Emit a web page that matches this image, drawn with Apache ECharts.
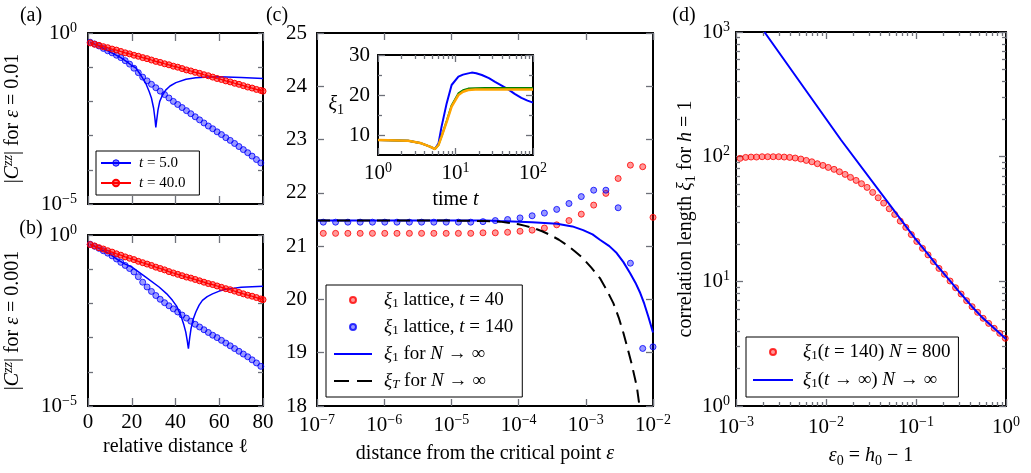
<!DOCTYPE html>
<html><head><meta charset="utf-8">
<script src="https://cdn.jsdelivr.net/npm/echarts@6/dist/echarts.min.js"></script>
<style>html,body{margin:0;padding:0;background:#fff}#c{width:1031px;height:473px}</style>
</head><body><div id="c"></div>
<script>
// ---------------- DATA ----------------
// panels (a),(b): relative distance l
const aLOdd = [1,3,5,7,9,11,13,15,17,19,21,23,25,27,29,31,33,35,37,39,41,43,45,47,49,51,53,55,57,59,61,63,65,67,69,71,73,75,77,79];
const aLRed = [1,3,5,7,9,11,13,15,17,19,21,23,25,27,29,31,33,35,37,39,41,43,45,47,49,51,53,55,57,59,61,63,65,67,69,71,73,75,77,79,80];
// values read as powers of ten (log10 |C^zz|)
const aBlueDotsExp = [-0.27,-0.32,-0.38,-0.45,-0.52,-0.58,-0.65,-0.72,-0.81,-0.91,-1.03,-1.16,-1.29,-1.40,-1.50,-1.60,-1.70,-1.80,-1.90,-2.00,-2.09,-2.18,-2.27,-2.36,-2.45,-2.54,-2.63,-2.72,-2.80,-2.89,-2.97,-3.06,-3.14,-3.23,-3.32,-3.41,-3.50,-3.60,-3.70,-3.80];
const aBlueLineL = [1,5,10,15,18,20,22,24,26.4,28,29,30,30.6,31,31.5,32,32.8,34,35.5,37.5,40.2,44.8,49.3,55,60,70,80];
const aBlueLineExp = [-0.27,-0.38,-0.55,-0.72,-0.85,-0.95,-1.03,-1.22,-1.47,-1.72,-1.90,-2.20,-2.50,-2.76,-2.50,-2.25,-2.00,-1.82,-1.67,-1.55,-1.45,-1.35,-1.31,-1.29,-1.28,-1.30,-1.33];
const aRedExp = [-0.29,-0.33,-0.36,-0.40,-0.43,-0.47,-0.50,-0.54,-0.58,-0.61,-0.65,-0.68,-0.72,-0.75,-0.79,-0.83,-0.86,-0.90,-0.93,-0.97,-1.00,-1.04,-1.08,-1.11,-1.15,-1.18,-1.22,-1.25,-1.29,-1.33,-1.36,-1.40,-1.43,-1.47,-1.50,-1.54,-1.58,-1.61,-1.65,-1.68,-1.70];

const bBlueDotsExp = [-0.27,-0.33,-0.39,-0.46,-0.53,-0.61,-0.70,-0.80,-0.89,-0.98,-1.08,-1.22,-1.38,-1.52,-1.65,-1.77,-1.88,-1.98,-2.07,-2.16,-2.25,-2.34,-2.43,-2.52,-2.61,-2.69,-2.77,-2.85,-2.93,-3.00,-3.08,-3.16,-3.24,-3.32,-3.40,-3.48,-3.56,-3.65,-3.74,-3.84];
const bBlueLineL = [1,5,10,14,17,19.6,22,26.4,32.5,36,38.6,40.5,42.4,43.7,44.7,45.4,45.9,46.5,47.1,48,49.3,50.8,52.3,54.5,56.9,60,63,70,80];
const bBlueLineExp = [-0.27,-0.39,-0.56,-0.74,-0.85,-0.92,-1.03,-1.23,-1.52,-1.72,-1.91,-2.08,-2.35,-2.60,-2.84,-3.10,-3.32,-3.00,-2.74,-2.48,-2.25,-2.05,-1.91,-1.80,-1.72,-1.64,-1.59,-1.53,-1.50];
const bRedExp = [-0.28,-0.32,-0.37,-0.41,-0.46,-0.50,-0.55,-0.59,-0.64,-0.68,-0.72,-0.77,-0.81,-0.85,-0.89,-0.94,-0.98,-1.02,-1.07,-1.11,-1.15,-1.19,-1.23,-1.26,-1.30,-1.34,-1.38,-1.42,-1.45,-1.49,-1.53,-1.57,-1.60,-1.64,-1.68,-1.72,-1.76,-1.79,-1.83,-1.87,-1.89];

// panel (c): distance from critical point
const cEps = [1.24e-7,1.89e-7,2.88e-7,4.39e-7,6.68e-7,1.02e-6,1.55e-6,2.37e-6,3.60e-6,5.48e-6,8.36e-6,1.27e-5,1.94e-5,2.95e-5,4.50e-5,6.86e-5,1.05e-4,1.59e-4,2.42e-4,3.69e-4,5.62e-4,8.57e-4,1.31e-3,1.99e-3,3.03e-3,4.61e-3,7.03e-3,1.0e-2];
const cXiT40 = [21.24,21.24,21.24,21.24,21.24,21.24,21.24,21.24,21.24,21.24,21.24,21.24,21.24,21.25,21.25,21.26,21.28,21.30,21.34,21.40,21.48,21.60,21.77,21.99,22.27,22.52,22.49,21.54];
const cXiT140 = [21.45,21.45,21.45,21.45,21.45,21.45,21.45,21.45,21.45,21.45,21.45,21.45,21.45,21.46,21.48,21.50,21.53,21.57,21.62,21.69,21.80,21.93,22.05,22.05,21.72,20.68,19.08,19.11];
const cLineEps = [1e-7,1e-5,3.16e-5,5.25e-5,1.58e-4,3.72e-4,6.31e-4,9.12e-4,1.26e-3,1.62e-3,2.24e-3,2.88e-3,3.63e-3,4.57e-3,5.50e-3,6.46e-3,7.41e-3,8.51e-3,1e-2];
const cLineXi = [21.48,21.48,21.48,21.47,21.45,21.42,21.37,21.30,21.22,21.12,21.00,20.87,20.70,20.49,20.31,20.12,19.92,19.68,19.38];
const cDashEps = [1e-7,1e-5,3.16e-5,5.25e-5,1e-4,1.26e-4,1.66e-4,2.24e-4,2.95e-4,3.98e-4,5.25e-4,6.92e-4,9.12e-4,1.20e-3,1.62e-3,2.04e-3,2.57e-3,3.09e-3,3.63e-3,4.17e-3,4.79e-3,5.75e-3,6.31e-3,6.61e-3];
const cDashXi = [21.48,21.48,21.47,21.46,21.41,21.38,21.34,21.28,21.21,21.12,21.02,20.90,20.77,20.60,20.40,20.18,19.93,19.66,19.37,19.09,18.80,18.36,17.99,17.70];

// inset: time t
const inT = [1,2.45,3.63,4.68,5.43,6.03,6.61,7.69,8.91,10.9,12.5,14.6,18,24,100];
const inOrange = [8.75,8.58,7.92,7.08,6.5,7.5,9.6,13.3,17.1,20.0,20.8,21.25,21.35,21.4,21.4];
const inGreen = [8.75,8.58,7.92,7.08,6.5,7.5,9.7,13.5,17.4,20.4,21.2,21.6,21.7,21.75,21.75];
const inBlueT = [1,2.45,3.63,4.68,5.43,6.03,6.61,7.69,8.91,10.9,12.5,14.6,16.2,18.5,21.9,27,32.4,40,47.9,58,70.8,85,100];
const inBlue = [8.75,8.58,7.92,7.08,6.5,7.9,12.1,17.9,22.5,24.6,25.1,25.4,25.6,25.45,25.0,24.2,23.3,22.3,21.4,20.3,19.3,18.6,18.1];

// panel (d): eps0 = h0 - 1
const dEps0 = [1.11e-3,1.28e-3,1.47e-3,1.69e-3,1.95e-3,2.25e-3,2.59e-3,2.98e-3,3.43e-3,3.95e-3,4.55e-3,5.25e-3,6.04e-3,6.96e-3,8.02e-3,9.24e-3,1.06e-2,1.23e-2,1.41e-2,1.63e-2,1.87e-2,2.16e-2,2.48e-2,2.86e-2,3.30e-2,3.80e-2,4.37e-2,5.04e-2,5.80e-2,6.68e-2,7.70e-2,8.87e-2,0.102,0.118,0.136,0.156,0.180,0.207,0.239,0.275,0.317,0.365,0.420,0.484,0.557,0.642,0.739,0.852,0.981];
const dXi800 = [96.9,98.7,99.3,99.3,99.9,99.9,99.9,99.9,99.3,98.7,97.5,95.7,93.3,91.0,87.8,85.1,82.0,79.1,75.7,72.1,68.2,64.5,60.7,56.7,51.7,46.8,42.4,38.2,34.4,30.4,27.1,23.7,20.9,18.4,16.3,14.4,12.7,11.4,10.06,8.89,7.91,7.0,6.26,5.64,5.05,4.60,4.20,3.83,3.49];
const dLineEps0 = [2.07e-3,1.47e-2,9.75e-2,0.136,0.167,0.239,0.317,0.420,0.557,0.739,1.0];
const dLineXi = [1000,136,22.1,16.5,13.7,10.1,7.91,6.26,5.05,4.20,3.45];

// tick values
const inYLabels = [10,20,30];
const inYMinor = [15,25];
const minorMult = [2,3,4,5,6,7,8,9];

// ---------------- CHART ----------------
const FONT = 'Liberation Serif';
const BLUE = '#0000ff', RED = '#ff0000';
const TICK_COLOR = '#6E7079';
const p10 = e => Math.pow(10, e);
const zip = (xs, ys) => xs.map((x, i) => [x, ys[i]]);
const logMinor = (decs) => decs.flatMap(n => minorMult.map(k => n + Math.log10(k)));

const RICH = {
  s: {fontSize: 14, lineHeight: 12, verticalAlign: 'top', fontFamily: FONT, color: '#000'},
  i: {fontStyle: 'italic', fontFamily: FONT, fontSize: 20, lineHeight: 24, color: '#000'},
  sup: {fontStyle: 'italic', fontFamily: FONT, fontSize: 14, lineHeight: 12, verticalAlign: 'top', color: '#000'},
  sub: {fontFamily: FONT, fontSize: 14, lineHeight: 14, verticalAlign: 'bottom', color: '#000'}
};
const supTxt = e => (e < 0 ? '\u2212' + (-e) : '' + e);
const logFmt = v => '10{s|' + supTxt(Math.round(Math.log10(v))) + '}';
const logFmtEnds = v => { const e = Math.round(Math.log10(v)); return (e === 0 || e === -5) ? '10{s|' + supTxt(e) + '}' : ''; };

const frame = () => ({show: true, onZero: false, lineStyle: {color: '#000', width: 2}});
const LAB = o => Object.assign({show: true, fontFamily: FONT, fontSize: 21, color: '#000', lineHeight: 24, rich: RICH}, o);
const NAME = {fontFamily: FONT, fontSize: 20, color: '#000', lineHeight: 24, rich: RICH};
const off = () => ({show: false});

// Builds the axes of one side-pair of a grid: labelled main axis, mirror frame axis,
// and tick axes placed on the opposite side with a negative offset so their ticks point into the plot.
function axesFor(dim, grid, size, type, min, max, o) {
  const P = dim === 'x' ? ['bottom', 'top'] : ['left', 'right'];
  const base = () => {
    const b = {type, gridIndex: grid, min, max, splitLine: off()};
    if (type === 'log') b.logBase = 10;
    if (o.interval) b.interval = o.interval;
    return b;
  };
  const tk = (len, vals) => {
    const t = {show: true, length: len, lineStyle: {color: TICK_COLOR, width: 1.3}};
    if (vals) t.customValues = vals;
    return t;
  };
  const hidLine = () => ({show: false, onZero: false});
  const main = Object.assign(base(), {position: P[0], axisLine: frame(), axisTick: off(), axisLabel: o.label || off()}, o.name || {});
  const mirror = Object.assign(base(), {position: P[1], axisLine: frame(), axisTick: off(), axisLabel: off()});
  const tickA = Object.assign(base(), {position: P[1], offset: -size, axisLine: hidLine(), axisLabel: off(), axisTick: tk(o.len || 7, o.tickVals)});
  const tickB = Object.assign(base(), {position: P[0], offset: -size, axisLine: hidLine(), axisLabel: off(), axisTick: tk(o.len || 7, o.tickVals)});
  const out = [main, mirror, tickA, tickB];
  if (o.minor) {
    const mb = () => ({type: 'value', gridIndex: grid, min: o.minor.min, max: o.minor.max, splitLine: off(), axisLabel: off(), axisLine: hidLine()});
    out.push(Object.assign(mb(), {position: P[1], offset: -size, axisTick: tk(4, o.minor.vals)}));
    out.push(Object.assign(mb(), {position: P[0], offset: -size, axisTick: tk(4, o.minor.vals)}));
  }
  return out;
}

const G = {
  a: {l: 88, t: 33, w: 175, h: 171},
  b: {l: 88, t: 235, w: 175, h: 171},
  c: {l: 317, t: 33, w: 336, h: 373},
  i: {l: 378, t: 55, w: 155, h: 100},
  d: {l: 736, t: 32, w: 270, h: 374}
};
const GRID = (g, bg) => ({left: g.l, top: g.t, width: g.w, height: g.h, show: !!bg, borderWidth: 0, backgroundColor: bg || 'transparent', containLabel: false, outerBoundsMode: 'none'});

const xAxes = [].concat(
  axesFor('x', 0, G.a.h, 'value', 0, 80, {interval: 20, len: 8}),                                   // 0..3
  axesFor('x', 1, G.b.h, 'value', 0, 80, {interval: 20, len: 8, label: LAB({margin: 4}),            // 4..7
    name: {name: 'relative distance \u2113', nameLocation: 'middle', nameGap: 22, nameTextStyle: NAME}}),
  axesFor('x', 2, G.c.h, 'log', 1e-7, 1e-2, {label: LAB({margin: 7, formatter: logFmt}),            // 8..11
    name: {name: 'distance from the critical point {i|\u03b5}', nameLocation: 'middle', nameGap: 31, nameTextStyle: NAME}}),
  axesFor('x', 3, G.i.h, 'log', 1, 100, {label: LAB({margin: 6, formatter: logFmt}),               // 12..17
    name: {name: 'time {i|t}', nameLocation: 'middle', nameGap: 33, nameTextStyle: NAME},
    minor: {min: 0, max: 2, vals: logMinor([0, 1])}}),
  axesFor('x', 4, G.d.h, 'log', 1e-3, 1, {label: LAB({margin: 9, formatter: logFmt}),              // 18..23
    name: {name: '{i|\u03b5}{sub|0} = {i|h}{sub|0} \u2212 1', nameLocation: 'middle', nameGap: 33, nameTextStyle: NAME},
    minor: {min: -3, max: 0, vals: logMinor([-3, -2, -1])}})
);
const yAxes = [].concat(
  axesFor('y', 0, G.a.w, 'log', 1e-5, 1, {len: 5, label: LAB({margin: 11, formatter: logFmtEnds}),  // 0..3
    name: {name: '|{i|C}{sup|zz}| for {i|\u03b5} = 0.01', nameLocation: 'middle', nameRotate: 90, nameGap: 63, nameTextStyle: NAME}}),
  axesFor('y', 1, G.b.w, 'log', 1e-5, 1, {len: 5, label: LAB({margin: 11, formatter: logFmtEnds}),  // 4..7
    name: {name: '|{i|C}{sup|zz}| for {i|\u03b5} = 0.001', nameLocation: 'middle', nameRotate: 90, nameGap: 63, nameTextStyle: NAME}}),
  axesFor('y', 2, G.c.w, 'value', 18, 25, {interval: 1, label: LAB({margin: 10})}),                 // 8..11
  axesFor('y', 3, G.i.w, 'value', 5, 30, {tickVals: inYLabels, label: LAB({margin: 8, customValues: inYLabels}), // 12..17
    name: {name: '{i|\u03be}{sub|1}', nameLocation: 'middle', nameRotate: 0, nameGap: 31, nameTextStyle: NAME},
    minor: {min: 5, max: 30, vals: inYMinor}}),
  axesFor('y', 4, G.d.w, 'log', 1, 1000, {label: LAB({margin: 6, formatter: logFmt}),              // 18..23
    name: {name: 'correlation length {i|\u03be}{sub|1} for {i|h} = 1', nameLocation: 'middle', nameRotate: 90, nameGap: 34, nameTextStyle: NAME},
    minor: {min: 0, max: 3, vals: logMinor([0, 1, 2])}})
);
const AX = {a: 0, b: 4, c: 8, i: 12, d: 18};

const DOT_B = {color: 'rgba(0,0,255,0.5)', borderColor: BLUE, borderWidth: 1};
const DOT_R = {color: 'rgba(255,0,0,0.5)', borderColor: RED, borderWidth: 1};

const LEG = {
  't = 5.0': '{i|t} = 5.0', 't = 40.0': '{i|t} = 40.0',
  c40: '{i|\u03be}{sub|1} lattice, {i|t} = 40', c140: '{i|\u03be}{sub|1} lattice, {i|t} = 140',
  cinf: '{i|\u03be}{sub|1} for {i|N} \u2192 \u221e', cT: '{i|\u03be}{subi|T} for {i|N} \u2192 \u221e',
  d800: '{i|\u03be}{sub|1}({i|t} = 140) {i|N} = 800', dinf: '{i|\u03be}{sub|1}({i|t} \u2192 \u221e) {i|N} \u2192 \u221e'
};
const legText = (fs, lh) => {
  const sf = Math.round(fs * 0.7);
  return {fontFamily: FONT, fontSize: fs, lineHeight: lh, color: '#000',
    rich: {i: {fontStyle: 'italic', fontFamily: FONT, fontSize: fs, lineHeight: lh, color: '#000'},
           sub: {fontFamily: FONT, fontSize: sf, lineHeight: sf, verticalAlign: 'bottom', color: '#000'},
           subi: {fontStyle: 'italic', fontFamily: FONT, fontSize: sf, lineHeight: sf, verticalAlign: 'bottom', color: '#000'}}};
};
const legBase = {orient: 'vertical', selectedMode: false, borderColor: '#000', borderWidth: 1, borderRadius: 0, backgroundColor: '#fff', formatter: n => LEG[n] || n, symbolKeepAspect: true};

const ser = (k, o) => Object.assign({xAxisIndex: AX[k], yAxisIndex: AX[k]}, o);

const option = {
  animation: false,
  backgroundColor: '#fff',
  grid: [GRID(G.a), GRID(G.b), GRID(G.c), GRID(G.i, '#fff'), GRID(G.d)],
  xAxis: xAxes,
  yAxis: yAxes,
  legend: [
    Object.assign({}, legBase, {left: 96, top: 151, itemWidth: 30, itemHeight: 8, itemGap: 4, padding: [4, 14, 4, 4],
      textStyle: Object.assign(legText(15, 16), {padding: [0, 0, 0, 3]}),
      data: [{name: 't = 5.0', itemStyle: DOT_B}, {name: 't = 40.0'}]}),
    Object.assign({}, legBase, {left: 326, top: 285, itemWidth: 38, itemHeight: 6, itemGap: 7, padding: [5, 9, 6, 7],
      textStyle: Object.assign(legText(19, 20), {padding: [0, 0, 0, 7]}),
      data: [{name: 'c40'}, {name: 'c140'}, {name: 'cinf', itemStyle: {opacity: 0}}, {name: 'cT', itemStyle: {opacity: 0}, lineStyle: {type: [15, 8]}}]}),
    Object.assign({}, legBase, {left: 746, top: 337, itemWidth: 40, itemHeight: 6, itemGap: 8, padding: [5, 8, 7, 6],
      textStyle: Object.assign(legText(19, 20), {padding: [0, 0, 0, 5]}),
      data: [{name: 'd800'}, {name: 'dinf', itemStyle: {opacity: 0}}]})
  ],
  graphic: [
    {type: 'text', x: 31, y: 16, style: {text: '(a)', fontFamily: FONT, fontSize: 20, fill: '#000', align: 'center', verticalAlign: 'middle'}},
    {type: 'text', x: 31, y: 229, style: {text: '(b)', fontFamily: FONT, fontSize: 20, fill: '#000', align: 'center', verticalAlign: 'middle'}},
    {type: 'text', x: 277, y: 16, style: {text: '(c)', fontFamily: FONT, fontSize: 20, fill: '#000', align: 'center', verticalAlign: 'middle'}},
    {type: 'text', x: 684, y: 16, style: {text: '(d)', fontFamily: FONT, fontSize: 20, fill: '#000', align: 'center', verticalAlign: 'middle'}}
  ],
  series: [
    // (a)
    ser('a', {type: 'scatter', name: 'a5dots', data: zip(aLOdd, aBlueDotsExp.map(p10)), symbolSize: 6, itemStyle: DOT_B}),
    ser('a', {type: 'line', name: 't = 5.0', data: zip(aBlueLineL, aBlueLineExp.map(p10)), symbol: 'none', lineStyle: {color: BLUE, width: 1.5}, itemStyle: {color: BLUE}}),
    ser('a', {type: 'line', name: 't = 40.0', data: zip(aLRed, aRedExp.map(p10)), symbol: 'circle', symbolSize: 6, showSymbol: true, showAllSymbol: true, itemStyle: DOT_R, lineStyle: {color: RED, width: 1.2}}),
    // (b)
    ser('b', {type: 'scatter', name: 'b5dots', data: zip(aLOdd, bBlueDotsExp.map(p10)), symbolSize: 6, itemStyle: DOT_B}),
    ser('b', {type: 'line', name: 't = 5.0', data: zip(bBlueLineL, bBlueLineExp.map(p10)), symbol: 'none', lineStyle: {color: BLUE, width: 1.5}, itemStyle: {color: BLUE}}),
    ser('b', {type: 'line', name: 't = 40.0', data: zip(aLRed, bRedExp.map(p10)), symbol: 'circle', symbolSize: 6, showSymbol: true, showAllSymbol: true, itemStyle: DOT_R, lineStyle: {color: RED, width: 1.2}}),
    // (c)
    ser('c', {type: 'scatter', name: 'c40', data: zip(cEps, cXiT40), symbolSize: 6, itemStyle: DOT_R}),
    ser('c', {type: 'scatter', name: 'c140', data: zip(cEps, cXiT140), symbolSize: 6, itemStyle: DOT_B}),
    ser('c', {type: 'line', name: 'cinf', data: zip(cLineEps, cLineXi), symbol: 'none', lineStyle: {color: BLUE, width: 2}, itemStyle: {color: BLUE}}),
    ser('c', {type: 'line', name: 'cT', data: zip(cDashEps, cDashXi), symbol: 'none', lineStyle: {color: '#000', width: 2, type: [13, 7]}, itemStyle: {color: '#000'}}),
    // inset
    ser('i', {type: 'line', name: 'inBlue', data: zip(inBlueT, inBlue), symbol: 'none', lineStyle: {color: BLUE, width: 2}, z: 5}),
    ser('i', {type: 'line', name: 'inGreen', data: zip(inT, inGreen), symbol: 'none', lineStyle: {color: '#008000', width: 2}, z: 5}),
    ser('i', {type: 'line', name: 'inOrange', data: zip(inT, inOrange), symbol: 'none', lineStyle: {color: '#ffa500', width: 2.5}, z: 5}),
    // (d)
    ser('d', {type: 'scatter', name: 'd800', data: zip(dEps0, dXi800), symbolSize: 6, itemStyle: DOT_R}),
    ser('d', {type: 'line', name: 'dinf', data: zip(dLineEps0, dLineXi), symbol: 'none', lineStyle: {color: BLUE, width: 2}, itemStyle: {color: BLUE}})
  ]
};
const chart = echarts.init(document.getElementById('c'), null, {renderer: 'canvas'});
chart.setOption(option);
</script>
</body></html>
